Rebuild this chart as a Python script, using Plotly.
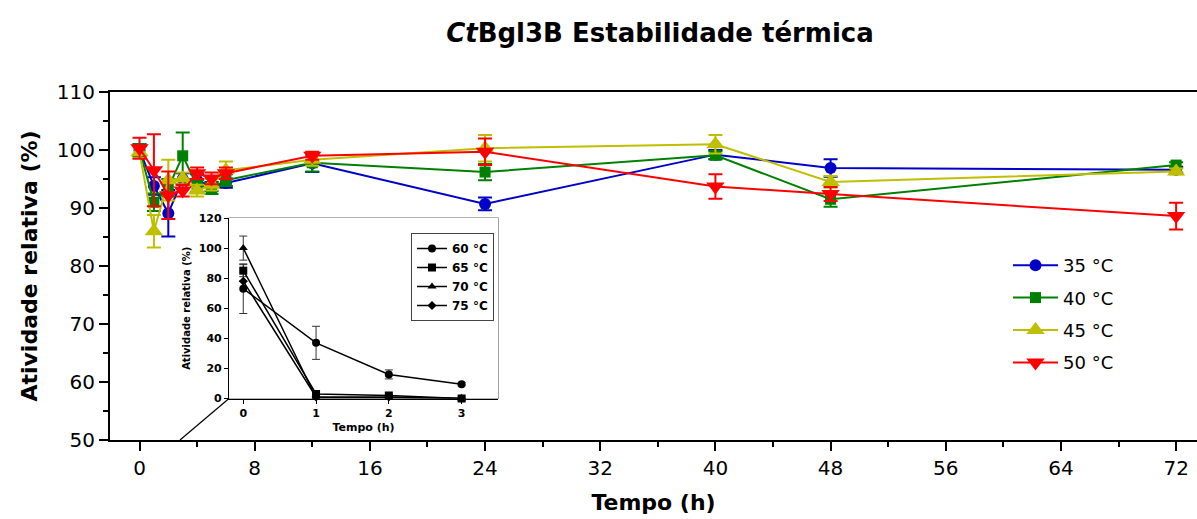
import plotly.graph_objects as go

# ---------------- data ----------------
times = [0, 1, 2, 3, 4, 5, 6, 12, 24, 40, 48, 72]
series_names = ["35 °C", "40 °C", "45 °C", "50 °C"]
v35 = [100, 93.8, 89.1, 95.0, 94.8, 93.7, 94.3, 97.7, 90.7, 99.2, 96.9, 96.6]
e35 = [1.0, 1.5, 4.0, 1.0, 1.0, 0.8, 0.8, 1.5, 1.1, 0.8, 1.5, 0.5]
v40 = [100, 91.0, 93.5, 99.0, 93.8, 93.4, 94.8, 97.8, 96.2, 99.1, 91.5, 97.4]
e40 = [1.0, 1.5, 1.5, 4.0, 1.0, 1.0, 1.0, 1.5, 1.4, 0.7, 1.3, 0.5]
v45 = [99.6, 86.0, 94.8, 95.1, 93.0, 94.0, 96.5, 98.3, 100.3, 101.0, 94.5, 96.3]
e45 = [1.0, 2.8, 3.5, 1.0, 1.0, 1.0, 1.5, 1.0, 2.3, 1.6, 1.0, 0.5]
v50 = [100.3, 96.5, 92.2, 93.0, 96.0, 95.1, 96.0, 99.0, 99.7, 93.7, 92.4, 88.6]
e50 = [1.8, 6.2, 4.1, 1.0, 1.0, 1.0, 1.0, 0.7, 2.3, 2.1, 1.2, 2.3]

inset_times = [0, 1, 2, 3]
inset_names = ["60 °C", "65 °C", "70 °C", "75 °C"]
i60 = [73, 37, 16, 9.5]
ie60 = [16.5, 11, 3, 1]
i65 = [85, 3, 2, 0]
ie65 = [4, 0.5, 0.5, 0]
i70 = [100, 0.5, 0.5, 0]
ie70 = [8, 0, 0, 0]
i75 = [78, 1, 1, 0]
ie75 = [0, 0, 0, 0]

x_ticks = list(range(0, 73, 8))
y_ticks = list(range(50, 111, 10))
inset_y_ticks = list(range(0, 121, 20))

# ---------------- style ----------------
FONT = "DejaVu Sans"
colors = ["#0000C8", "#008000", "#BFBF00", "#FF0000"]
symbols = ["circle", "square", "triangle-up", "triangle-down"]
sizes = [12, 11, 16, 16]

fig = go.Figure()

main_vals = [v35, v40, v45, v50]
main_errs = [e35, e40, e45, e50]
for name, vals, errs, c, s, sz in zip(series_names, main_vals, main_errs, colors, symbols, sizes):
    fig.add_trace(go.Scatter(
        x=times, y=vals, name=name, mode="lines+markers",
        line=dict(color=c, width=2),
        marker=dict(symbol=s, size=sz, color=c),
        error_y=dict(type="data", array=errs, visible=True, color=c, thickness=2, width=7),
        legendgroup=name, cliponaxis=False,
    ))

inset_vals = [i60, i65, i70, i75]
inset_errs = [ie60, ie65, ie70, ie75]
inset_symbols = ["circle", "square", "triangle-up", "diamond"]
inset_sizes = [8, 8, 8, 7]
for name, vals, errs, s, sz in zip(inset_names, inset_vals, inset_errs, inset_symbols, inset_sizes):
    fig.add_trace(go.Scatter(
        x=inset_times, y=vals, name=name, mode="lines+markers",
        xaxis="x2", yaxis="y2", legend="legend2",
        line=dict(color="black", width=1.5),
        marker=dict(symbol=s, size=sz, color="black"),
        error_y=dict(type="data", array=errs, visible=True, color="#333", thickness=1, width=4),
        cliponaxis=False,
    ))

# geometry of main plot area (pixels) for paper conversions
W, H = 1197, 519
ML, MR, MT, MB = 110, 0, 92, 79
PW, PH = W - ML - MR, H - MT - MB

def px2paper_x(px):
    return (px - ML) / PW

def py2paper_y(py):
    return (H - MB - py) / PH

inset_dom_x = [px2paper_x(229), px2paper_x(498)]
inset_dom_y = [py2paper_y(398.5), py2paper_y(218)]

fig.update_layout(
    width=W, height=H,
    margin=dict(l=ML, r=MR, t=MT, b=MB, pad=0),
    paper_bgcolor="white", plot_bgcolor="white",
    font=dict(family=FONT, color="black"),
    title=dict(
        text="<b><i>Ct</i>Bgl3B Estabilidade térmica</b>",
        font=dict(family=FONT, size=26, color="black"),
        x=660 / W, xref="container", xanchor="center",
        y=1 - 33 / H, yref="container", yanchor="middle",
    ),
    xaxis=dict(
        range=[-2.05, 73.45], tickvals=x_ticks, ticks="outside", ticklen=9, tickwidth=2,
        tickcolor="black", showline=True, linecolor="black", linewidth=2, mirror=True,
        showgrid=False, zeroline=False, tickfont=dict(size=20, family=FONT),
        minor=dict(dtick=4, tick0=0, ticks="outside", ticklen=5, tickwidth=2, tickcolor="black", showgrid=False),
        title=dict(text="<b>Tempo (h)</b>", font=dict(size=22, family=FONT), standoff=16),
    ),
    yaxis=dict(
        range=[50, 110], tickvals=y_ticks, ticks="outside", ticklen=9, tickwidth=2,
        tickcolor="black", showline=True, linecolor="black", linewidth=2,
        showgrid=False, zeroline=False, tickfont=dict(size=20, family=FONT),
        minor=dict(dtick=5, tick0=50, ticks="outside", ticklen=5, tickwidth=2, tickcolor="black", showgrid=False),
        title=dict(text="<b>Atividade relativa (%)</b>", font=dict(size=22, family=FONT), standoff=13),
    ),
    xaxis2=dict(
        domain=inset_dom_x, anchor="y2", range=[-0.196, 3.5], tickvals=inset_times,
        ticks="outside", ticklen=4, tickwidth=1, tickcolor="black",
        showline=True, linecolor="black", linewidth=1.2, showgrid=False, zeroline=False,
        tickfont=dict(size=11, family=FONT, weight="bold"),
        title=dict(text="<b>Tempo (h)</b>", font=dict(size=11, family=FONT), standoff=4),
    ),
    yaxis2=dict(
        domain=inset_dom_y, anchor="x2", range=[0, 120], tickvals=inset_y_ticks,
        ticks="outside", ticklen=4, tickwidth=1, tickcolor="black",
        showline=True, linecolor="black", linewidth=1.2, showgrid=False, zeroline=False,
        tickfont=dict(size=11, family=FONT, weight="bold"),
        title=dict(text="<b>Atividade relativa (%)</b>", font=dict(size=10, family=FONT), standoff=6),
    ),
    legend=dict(
        x=px2paper_x(1008), xanchor="left", y=py2paper_y(247), yanchor="top",
        bgcolor="rgba(0,0,0,0)", borderwidth=0, font=dict(size=18, family=FONT),
        tracegroupgap=6, itemwidth=45,
    ),
    legend2=dict(
        x=px2paper_x(411), xanchor="left", y=py2paper_y(233), yanchor="top",
        bgcolor="white", bordercolor="#444", borderwidth=1,
        font=dict(size=12, family=FONT, weight="bold"), tracegroupgap=0,
    ),
    showlegend=True,
    shapes=[
        dict(type="rect", xref="x2 domain", yref="y2 domain", x0=0, x1=1, y0=0, y1=1,
             line=dict(color="#666", width=1.2), layer="below"),
        dict(type="line", xref="paper", yref="paper",
             x0=px2paper_x(180), y0=0, x1=px2paper_x(229), y1=py2paper_y(398.5),
             line=dict(color="black", width=1.2)),
    ],
)

fig.write_html("out.html")
